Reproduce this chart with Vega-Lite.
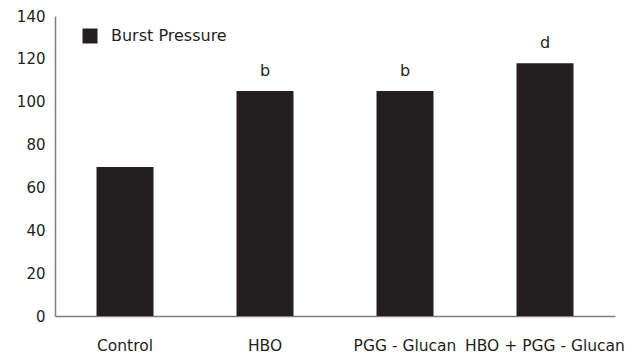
{
  "$schema": "https://vega.github.io/schema/vega-lite/v6.json",
  "autosize": "none",
  "width": 560,
  "height": 300,
  "padding": {"left": 55, "top": 16, "right": 20, "bottom": 40},
  "background": "white",
  "config": {
    "font": "DejaVu Sans",
    "view": {"stroke": null},
    "axis": {"grid": false, "domainColor": "#7f7f7f", "tickColor": "#7f7f7f", "labelColor": "#231f20", "labelFont": "DejaVu Sans", "labelFontSize": 15, "title": null}
  },
  "data": {
    "values": [
      {"group": "Control", "value": 69.5, "letter": ""},
      {"group": "HBO", "value": 105, "letter": "b"},
      {"group": "PGG - Glucan", "value": 105, "letter": "b"},
      {"group": "HBO + PGG - Glucan", "value": 118, "letter": "d"}
    ]
  },
  "encoding": {
    "x": {
      "field": "group", "type": "nominal", "sort": null,
      "scale": {"paddingInner": 0.593, "paddingOuter": 0.2965},
      "axis": {"orient": "bottom", "labelAngle": 0, "ticks": false, "labelPadding": 22, "domainWidth": 1.5, "labelFontSize": 15.5}
    },
    "y": {
      "field": "value", "type": "quantitative",
      "scale": {"domain": [0, 140], "nice": false},
      "axis": {"orient": "left", "values": [0, 20, 40, 60, 80, 100, 120, 140], "ticks": false, "labelPadding": 10, "domainWidth": 1.5}
    }
  },
  "layer": [
    {
      "mark": {"type": "bar"},
      "encoding": {
        "color": {
          "datum": "Burst Pressure",
          "scale": {"range": ["#231f20"]},
          "legend": {"title": null, "orient": "none", "legendX": 27, "legendY": 12, "symbolType": "square", "symbolSize": 225, "symbolStrokeWidth": 0, "labelFontSize": 16, "labelColor": "#231f20", "labelOffset": 13, "padding": 0}
        }
      }
    },
    {
      "mark": {"type": "text", "baseline": "bottom", "dy": -12, "fontSize": 16, "color": "#231f20", "font": "DejaVu Sans"},
      "encoding": {"text": {"field": "letter"}}
    }
  ]
}
